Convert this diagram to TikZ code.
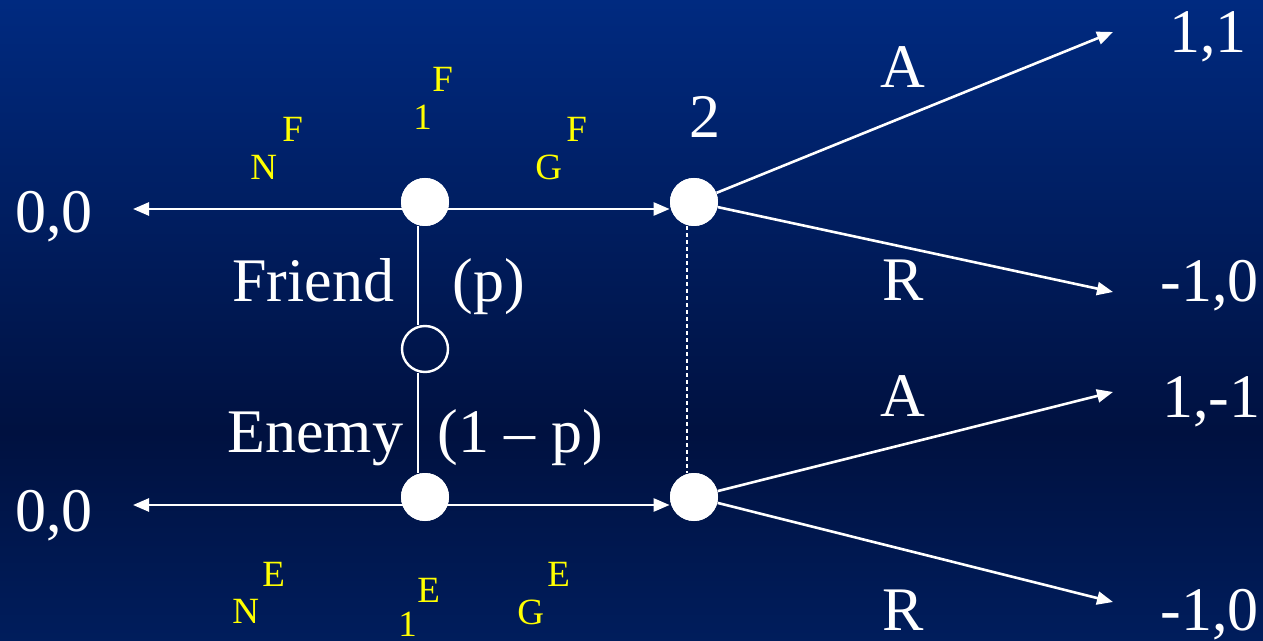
\documentclass[tikz,border=0pt]{standalone}
\usepackage{fontspec}
\setmainfont{Liberation Serif}
\usetikzlibrary{arrows.meta}
\definecolor{bgtop}{RGB}{0,42,128}
\definecolor{bgmid}{RGB}{0,17,64}
\definecolor{bgbot}{RGB}{0,29,92}
\definecolor{lab}{RGB}{255,255,0}
\begin{document}
\begin{tikzpicture}[x=0.5pt,y=-0.5pt,
  big/.style={text=white,font=\fontsize{31}{31}\selectfont,inner sep=0,anchor=base west},
  yl/.style={text=lab,font=\fontsize{18.5}{18.5}\selectfont,inner sep=0,anchor=base west},
  dec/.style={circle,fill=white,minimum size=24pt,inner sep=0},
  chance/.style={circle,draw=white,line width=1.2pt,minimum size=23pt,inner sep=0},
  arr/.style={white,line width=1.3pt,-{Triangle[length=8pt,width=6.5pt]}},
  link/.style={white,line width=0.8pt},
  info/.style={white,line width=0.6pt,dash pattern=on 2pt off 1.5pt}]
\shade[top color=bgtop,bottom color=bgmid] (0,0) rectangle (1263,433);
\shade[top color=bgmid,bottom color=bgbot] (0,432) rectangle (1263,641);
\useasboundingbox (0,0) rectangle (1263,641);
% decision and chance nodes
\node[dec] (F1) at (425,202) {};
\node[dec] (T2) at (694,202) {};
\node[chance] (C) at (425,349) {};
\node[dec] (E1) at (425,497) {};
\node[dec] (B2) at (694,497) {};
% free ends
\coordinate (LF) at (133,209);
\coordinate (LE) at (133,505);
\coordinate (TA) at (1113,32);
\coordinate (TR) at (1113,292);
\coordinate (BA) at (1113,392);
\coordinate (BR) at (1113,602);
% connectors
\draw[arr] ([yshift=-3.5pt]F1.center) -- (LF);
\draw[arr] ([yshift=-3.5pt]F1.center) -- ([yshift=-3.5pt]T2.west);
\draw[arr] ([yshift=-4pt]E1.center) -- (LE);
\draw[arr] ([yshift=-4pt]E1.center) -- ([yshift=-4pt]B2.west);
\draw[link] ([xshift=-3.5pt]F1.south) -- ([xshift=-3.5pt]C.north);
\draw[link] ([xshift=-3.5pt]C.south) -- ([xshift=-3.5pt]E1.north);
\draw[info] ([xshift=-3.5pt]T2.south) -- ([xshift=-3.5pt]B2.north);
\draw[arr] (T2) -- (TA);
\draw[arr] (T2) -- (TR);
\draw[arr] (B2) -- (BA);
\draw[arr] (B2) -- (BR);
\node[dec] at (F1) {};
\node[dec] at (E1) {};
\node[dec] at (T2) {};
\node[dec] at (B2) {};
% white labels
\node[big] (zl1) at (15,233) {0,0};
\node[big] (zl2) at (15,531) {0,0};
\node[big] (friend) at (232,302) {Friend};
\node[big] (p) at (452,302) {(p)};
\node[big] (enemy) at (227,452) {Enemy};
\node[big] (q) at (437,452) {(1 – p)};
\node[big] (two) at (689,138) {2};
\node[big] (a1) at (880,88) {A};
\node[big] (r1) at (882,301) {R};
\node[big] (a2) at (880,416) {A};
\node[big] (r2) at (882,630) {R};
\node[big] (o1) at (1169,53) {1,1};
\node[big] (o2) at (1160,302) {-1,0};
\node[big] (o3) at (1162,417) {1,-1};
\node[big] (o4) at (1160,630) {-1,0};
% yellow action labels
\node[yl] (nf) at (250,180) {N};
\node[yl] (nfs) at (282,142) {F};
\node[yl] (of) at (413,130) {1};
\node[yl] (ofs) at (432,92) {F};
\node[yl] (gf) at (535,180) {G};
\node[yl] (gfs) at (566,142) {F};
\node[yl] (ne) at (232,623) {N};
\node[yl] (nes) at (262,586) {E};
\node[yl] (oe) at (398,636) {1};
\node[yl] (oes) at (417,602) {E};
\node[yl] (ge) at (517,624) {G};
\node[yl] (ges) at (547,586) {E};
\end{tikzpicture}
\end{document}
